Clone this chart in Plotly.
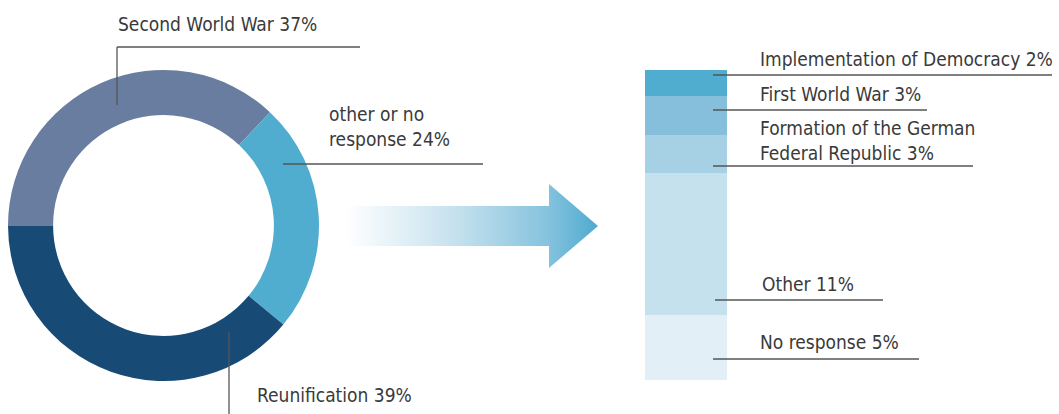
import plotly.graph_objects as go

# ---- data ----
donut_labels = ["Second World War", "other or no response", "Reunification"]
donut_text = ["Second World War", "other or no<br>response", "Reunification"]
donut_values = [37, 24, 39]
donut_colors = ["#687d9f", "#51adcf", "#174b76"]

bar_labels = ["Implementation of Democracy", "First World War",
              "Formation of the German Federal Republic", "Other", "No response"]
bar_text = ["Implementation of Democracy", "First World War",
            "Formation of the German<br>Federal Republic", "Other", "No response"]
bar_values = [2, 3, 3, 11, 5]
bar_colors = ["#51adcf", "#86bfdc", "#a6d1e4", "#c5e1ed", "#e2eff7"]

W, H = 1059, 414
FONT = "DejaVu Sans Condensed, Liberation Sans Narrow, sans-serif"
TXT = "#3a3a3a"
LINE = "#555555"
FS = 19.0

fig = go.Figure()

# donut
fig.add_trace(go.Pie(
    labels=donut_labels, values=donut_values, hole=0.71, sort=False,
    direction="clockwise", rotation=270, textinfo="none", hoverinfo="label+percent",
    marker=dict(colors=donut_colors, line=dict(width=0)),
    domain=dict(x=[8 / W, 319 / W], y=[1 - 381 / H, 1 - 70 / H]),
    showlegend=False,
))

# stacked bar (bottom to top)
for lab, val, col in reversed(list(zip(bar_labels, bar_values, bar_colors))):
    fig.add_trace(go.Bar(
        x=[0], y=[val], name=lab, marker=dict(color=col, line=dict(width=0)),
        xaxis="x2", yaxis="y2", showlegend=False, width=1,
    ))

# gradient arrow
ax = [346, 549, 549, 598, 549, 549, 346, 346]
ay = [206, 206, 184, 226, 268, 246, 246, 206]
fig.add_trace(go.Scatter(
    x=ax, y=ay, mode="lines", fill="toself", line=dict(width=0),
    fillgradient=dict(type="horizontal", start=346, stop=598,
                      colorscale=[[0, "rgba(255,255,255,1)"], [0.45, "#c3e0ed"],
                                  [0.8, "#85c3de"], [1, "#4eaacf"]]),
    hoverinfo="skip", showlegend=False,
))

# leader lines (pixel coordinates on the frame axes)
segs = [
    (117, 105, 117, 47), (117, 47, 360, 47),
    (283, 164, 483, 164),
    (229, 332, 229, 414),
    (713, 75, 1052, 75),
    (713, 110, 927, 110),
    (713, 166, 973, 166),
    (715, 300, 883, 300),
    (713, 359, 919, 359),
]
for x0, y0, x1, y1 in segs:
    fig.add_shape(type="line", x0=x0, y0=y0, x1=x1, y1=y1, xref="x", yref="y",
                  line=dict(color=LINE, width=1.3), layer="above")

# labels
donut_pos = [(116, 24), (327, 126), (255, 395)]
for (x, y), t, v in zip(donut_pos, donut_text, donut_values):
    fig.add_annotation(x=x, y=y, xref="x", yref="y", text=f"{t} {v}%",
                       showarrow=False, xanchor="left", yanchor="middle", align="left")
bar_pos = [(758, 59), (758, 94), (758, 140), (760, 284), (758, 342)]
for (x, y), t, v in zip(bar_pos, bar_text, bar_values):
    fig.add_annotation(x=x, y=y, xref="x", yref="y", text=f"{t} {v}%",
                       showarrow=False, xanchor="left", yanchor="middle", align="left")

fig.update_layout(
    width=W, height=H, margin=dict(l=0, r=0, t=0, b=0),
    paper_bgcolor="white", plot_bgcolor="rgba(0,0,0,0)",
    font=dict(family=FONT, size=FS, color=TXT),
    barmode="stack", bargap=0,
    xaxis=dict(range=[0, W], domain=[0, 1], visible=False, fixedrange=True),
    yaxis=dict(range=[H, 0], domain=[0, 1], visible=False, fixedrange=True),
    xaxis2=dict(range=[-0.5, 0.5], domain=[645 / W, 727 / W], anchor="y2",
                visible=False, fixedrange=True),
    yaxis2=dict(range=[0, sum(bar_values)], domain=[1 - 380 / H, 1 - 70 / H],
                anchor="x2", visible=False, fixedrange=True),
)

fig.write_html("out.html", config={"displayModeBar": False},
               post_script="document.body.style.margin='0px';document.body.style.overflow='hidden';")
